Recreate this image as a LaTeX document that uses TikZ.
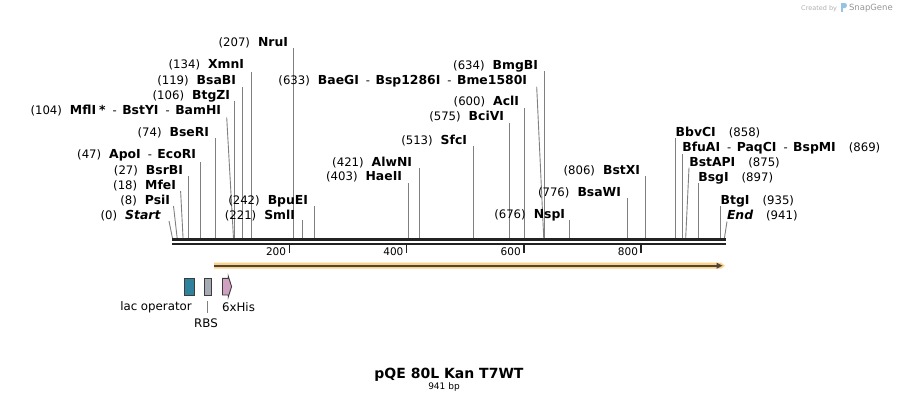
\documentclass[tikz,border=0pt]{standalone}
\usepackage{fontspec}
\setmainfont{DejaVu Sans}
\definecolor{siteline}{RGB}{128,128,128}
\definecolor{bbone}{RGB}{34,34,34}
\definecolor{orfband}{RGB}{252,211,134}
\definecolor{orfline}{RGB}{80,70,60}
\definecolor{lacteal}{RGB}{46,130,155}
\definecolor{rbsgray}{RGB}{166,170,178}
\definecolor{hispink}{RGB}{208,160,192}
\definecolor{featedge}{RGB}{60,60,60}
\definecolor{logogray}{RGB}{175,175,175}
\definecolor{logoblue}{RGB}{150,195,228}
\newcommand\Enum[1]{{\fontsize{11.7}{13}\selectfont #1}}
\newcommand\Ename[1]{{\fontsize{12.4}{14}\selectfont\bfseries #1}}
\newcommand\Eit[1]{{\fontsize{12.4}{14}\selectfont\bfseries\itshape #1}}
\newcommand\Esep{\hspace{7pt}{\fontsize{11.5}{13}\selectfont -}\hspace{5.5pt}}
\newcommand\Lgap{\hspace{8pt}}
\newcommand\Rgap{\hspace{13pt}}
\newcommand\vsite[2]{\coordinate (s#1) at ({172.5+0.5865*#1},238.3); \coordinate (t#1) at ({172.5+0.5865*#1},#2); \draw[siteln] (s#1) -- (t#1);}
\newcommand\ssite[3]{\coordinate (s#1) at ({172.5+0.5865*#1},238.3); \coordinate (t#1) at (#2,#3); \draw[siteln] (s#1) -- (t#1);}
\begin{document}
\begin{tikzpicture}[x=1pt,y=-1pt,
  siteln/.style={draw=siteline,line width=0.9pt},
  lbl/.style={inner sep=0pt,outer sep=0pt},
  feat/.style={draw=featedge,line width=0.9pt,inner sep=0pt},
  ticklbl/.style={inner sep=0pt,anchor=base east,font=\fontsize{10.5}{12}\selectfont}]
\useasboundingbox (0,0) rectangle (898,405);

% logo text
\node[lbl,anchor=base east,text=logogray] (created) at (837,10) {\fontsize{6.5}{8}\selectfont Created by};
\fill[logoblue] (841,3) rectangle (842.6,12);
\fill[logoblue] (842.6,3) -- (845,3) .. controls (847.5,3) and (847.5,8) .. (845,8) -- (842.6,8) -- cycle;
\node[lbl,anchor=base west,text=logogray!85!black] (snapgene) at (849,10.5) {\fontsize{8.5}{10}\selectfont SnapGene};

% site lines
\ssite{0}{169}{221}
\ssite{8}{173.5}{206}
\ssite{18}{180.6}{191}
\vsite{27}{176}
\vsite{47}{162}
\vsite{74}{138.3}
\ssite{104}{226.7}{117.3}
\vsite{106}{101}
\vsite{119}{86.7}
\vsite{134}{71.7}
\vsite{207}{48.3}
\vsite{221}{220}
\vsite{242}{205.7}
\vsite{403}{182.7}
\vsite{421}{167.7}
\vsite{513}{146}
\vsite{575}{122.7}
\vsite{600}{107.7}
\ssite{633}{536.7}{86.7}
\vsite{634}{71}
\vsite{676}{220}
\vsite{776}{198.3}
\vsite{806}{176}
\vsite{858}{138.3}
\vsite{869}{154.3}
\ssite{875}{689}{167.7}
\vsite{897}{183.3}
\vsite{935}{205.7}
\ssite{941}{727}{221.5}

% left-side labels
\node[lbl,anchor=base east] (lNruI) at (288,46.9) {\Enum{(207)}\Lgap\Ename{NruI}};
\node[lbl,anchor=base east] (lXmnI) at (244,68.9) {\Enum{(134)}\Lgap\Ename{XmnI}};
\node[lbl,anchor=base east] (lBsaBI) at (236,84.4) {\Enum{(119)}\Lgap\Ename{BsaBI}};
\node[lbl,anchor=base east] (lBtgZI) at (230,99.4) {\Enum{(106)}\Lgap\Ename{BtgZI}};
\node[lbl,anchor=base east] (lMflI) at (221,114.4) {\Enum{(104)}\Lgap\Ename{MflI\hspace{3pt}*}\Esep\Ename{BstYI}\Esep\Ename{BamHI}};
\node[lbl,anchor=base east] (lBseRI) at (209,136.2) {\Enum{(74)}\Lgap\Ename{BseRI}};
\node[lbl,anchor=base east] (lApoI) at (196,158.9) {\Enum{(47)}\Lgap\Ename{ApoI}\Esep\Ename{EcoRI}};
\node[lbl,anchor=base east] (lBsrBI) at (183,174.4) {\Enum{(27)}\Lgap\Ename{BsrBI}};
\node[lbl,anchor=base east] (lMfeI) at (176,189.4) {\Enum{(18)}\Lgap\Ename{MfeI}};
\node[lbl,anchor=base east] (lPsiI) at (170,204.4) {\Enum{(8)}\Lgap\Ename{PsiI}};
\node[lbl,anchor=base east] (lStart) at (160.5,219.4) {\Enum{(0)}\Lgap\Eit{Start}};
\node[lbl,anchor=base east] (lSmlI) at (295,219.4) {\Enum{(221)}\Lgap\Ename{SmlI}};
\node[lbl,anchor=base east] (lBpuEI) at (308,204.4) {\Enum{(242)}\Lgap\Ename{BpuEI}};
\node[lbl,anchor=base east] (lBaeGI) at (527,84.4) {\Enum{(633)}\Lgap\Ename{BaeGI}\Esep\Ename{Bsp1286I}\Esep\Ename{Bme1580I}};
\node[lbl,anchor=base east] (lBmgBI) at (538,69.4) {\Enum{(634)}\Lgap\Ename{BmgBI}};
\node[lbl,anchor=base east] (lAclI) at (519,105.9) {\Enum{(600)}\Lgap\Ename{AclI}};
\node[lbl,anchor=base east] (lBciVI) at (504,120.9) {\Enum{(575)}\Lgap\Ename{BciVI}};
\node[lbl,anchor=base east] (lSfcI) at (467,144.4) {\Enum{(513)}\Lgap\Ename{SfcI}};
\node[lbl,anchor=base east] (lAlwNI) at (412,166.1) {\Enum{(421)}\Lgap\Ename{AlwNI}};
\node[lbl,anchor=base east] (lHaeII) at (402,180.9) {\Enum{(403)}\Lgap\Ename{HaeII}};
\node[lbl,anchor=base east] (lNspI) at (565,218.9) {\Enum{(676)}\Lgap\Ename{NspI}};
\node[lbl,anchor=base east] (lBsaWI) at (621,196.9) {\Enum{(776)}\Lgap\Ename{BsaWI}};
\node[lbl,anchor=base east] (lBstXI) at (640,174.4) {\Enum{(806)}\Lgap\Ename{BstXI}};

% right-side labels
\node[lbl,anchor=base west] (lBbvCI) at (675.7,136.4) {\Ename{BbvCI}\Rgap\Enum{(858)}};
\node[lbl,anchor=base west] (lBfuAI) at (682.3,151.7) {\Ename{BfuAI}\Esep\Ename{PaqCI}\Esep\Ename{BspMI}\Rgap\Enum{(869)}};
\node[lbl,anchor=base west] (lBstAPI) at (689.3,166.7) {\Ename{BstAPI}\Rgap\Enum{(875)}};
\node[lbl,anchor=base west] (lBsgI) at (698.3,181.7) {\Ename{BsgI}\Rgap\Enum{(897)}};
\node[lbl,anchor=base west] (lBtgI) at (720.7,204.4) {\Ename{BtgI}\Rgap\Enum{(935)}};
\node[lbl,anchor=base west] (lEnd) at (727,219.9) {\Eit{End}\Rgap\Enum{(941)}};

% backbone
\fill[bbone] (172,238.3) rectangle (725.5,241);
\fill[bbone] (172,242.7) rectangle (725.5,245.3);

% ticks
\foreach \v in {200,400,600,800}{
  \draw[bbone,line width=1.6pt] ({172+0.5865*\v},245) -- ({172+0.5865*\v},253.3);
  \node[ticklbl] (tk\v) at ({169+0.5865*\v},255.8) {\v};
}

% ORF arrow
\fill[orfband] (214,262.7) -- (721,262.7) -- (725,265.7) -- (721,268.7) -- (214,268.7) -- cycle;
\draw[orfline,line width=2.3pt] (214,265.7) -- (718,265.7);
\fill[orfline] (716.5,262.6) -- (722.5,265.7) -- (716.5,268.8) -- cycle;

% features
\node[feat,fill=lacteal,minimum width=10pt,minimum height=16.7pt] (lacop) at (189.3,286.7) {};
\node[feat,fill=rbsgray,minimum width=6.6pt,minimum height=16.7pt] (rbs) at (208,286.7) {};
\coordinate (his) at (226,286.6);
\filldraw[fill=hispink,draw=featedge,line width=0.9pt] (222.5,278.3) -- (228.2,278.3) -- (228.2,276) -- (231.6,286.6) -- (228.2,297.2) -- (228.2,295) -- (222.5,295) -- cycle;

\node[lbl,font=\fontsize{11.8}{13}\selectfont] (laclbl) at (156,307) {lac operator};
\node[lbl,font=\fontsize{11.8}{13}\selectfont] (hislbl) at (238.5,307) {6xHis};
\node[lbl,font=\fontsize{11.8}{13}\selectfont] (rbslbl) at (206,323) {RBS};
\coordinate (rbsA) at (207.7,301);
\coordinate (rbsB) at (207.7,313.3);
\draw[siteline,line width=0.8pt] (rbsA) -- (rbsB);

% title
\node[lbl,anchor=base] (title) at (449,378.3) {\fontsize{14}{16}\selectfont\bfseries pQE 80L Kan T7WT};
\node[lbl,anchor=base] (bp) at (444,389.3) {\fontsize{9}{11}\selectfont 941 bp};
\end{tikzpicture}
\end{document}
